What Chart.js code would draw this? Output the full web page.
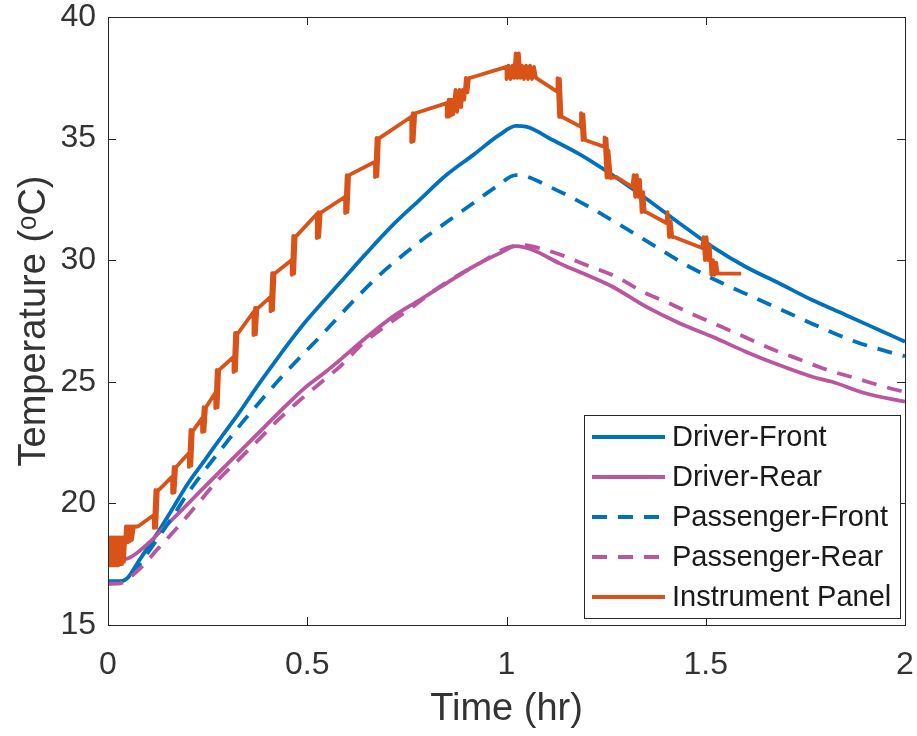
<!DOCTYPE html>
<html>
<head>
<meta charset="utf-8">
<script src="https://cdn.jsdelivr.net/npm/chart.js@4.4.1/dist/chart.umd.min.js"></script>
<style>
  body { margin: 0; background: #fff; }
  canvas { display: block; }
</style>
</head>
<body>
<canvas id="tempChart" width="917" height="736"></canvas>
<script>
// Cabin temperatures vs time
const seriesLabels = ["Driver-Front", "Driver-Rear", "Passenger-Front", "Passenger-Rear", "Instrument Panel"];

const driverFrontTime = [0, 0.03, 0.05, 0.076, 0.118, 0.16, 0.201, 0.243, 0.285, 0.327, 0.368, 0.41, 0.452, 0.494, 0.536, 0.581, 0.648, 0.715, 0.782, 0.849, 0.916, 0.982, 1.024, 1.049, 1.116, 1.183, 1.266, 1.35, 1.434, 1.517, 1.6, 1.684, 1.767, 1.851, 1.935, 2.0];
const driverFrontTemp = [16.8, 16.8, 16.95, 17.6, 18.63, 19.73, 20.83, 21.78, 22.74, 23.68, 24.66, 25.62, 26.56, 27.44, 28.23, 29.05, 30.28, 31.45, 32.48, 33.5, 34.32, 35.15, 35.52, 35.49, 34.94, 34.36, 33.5, 32.54, 31.52, 30.55, 29.73, 29.05, 28.36, 27.75, 27.13, 26.65];

const driverRearTime = [0, 0.03, 0.059, 0.101, 0.143, 0.193, 0.243, 0.293, 0.343, 0.393, 0.444, 0.494, 0.544, 0.581, 0.648, 0.715, 0.782, 0.849, 0.916, 0.982, 1.024, 1.066, 1.133, 1.2, 1.266, 1.35, 1.434, 1.517, 1.6, 1.684, 1.767, 1.817, 1.9, 2.0];
const driverRearTemp = [17.6, 17.65, 17.81, 18.36, 19.04, 19.86, 20.69, 21.51, 22.33, 23.15, 23.98, 24.75, 25.38, 25.88, 26.82, 27.68, 28.36, 29.05, 29.73, 30.28, 30.58, 30.42, 29.87, 29.4, 28.91, 28.09, 27.41, 26.85, 26.24, 25.69, 25.21, 25.0, 24.53, 24.18];

const passFrontTime = [0, 0.03, 0.06, 0.101, 0.16, 0.2, 0.243, 0.289, 0.335, 0.385, 0.436, 0.485, 0.536, 0.581, 0.632, 0.682, 0.74, 0.799, 0.857, 0.916, 0.974, 1.024, 1.049, 1.108, 1.183, 1.292, 1.375, 1.459, 1.542, 1.626, 1.709, 1.793, 1.876, 1.972, 2.0];
const passFrontTemp = [16.7, 16.75, 17.1, 18.0, 19.4, 20.41, 21.37, 22.33, 23.29, 24.25, 25.21, 26.06, 26.92, 27.72, 28.6, 29.4, 30.21, 30.97, 31.65, 32.34, 33.02, 33.5, 33.45, 33.02, 32.41, 31.38, 30.55, 29.73, 29.05, 28.43, 27.82, 27.2, 26.65, 26.17, 26.05];

const passRearTime = [0, 0.026, 0.076, 0.126, 0.176, 0.226, 0.276, 0.327, 0.377, 0.427, 0.477, 0.527, 0.586, 0.64, 0.707, 0.765, 0.832, 0.932, 0.999, 1.04, 1.083, 1.15, 1.2, 1.275, 1.341, 1.408, 1.471, 1.538, 1.605, 1.672, 1.739, 1.805, 1.876, 1.947, 2.0];
const passRearTemp = [16.7, 16.7, 17.26, 18.15, 19.04, 20.0, 20.96, 21.78, 22.6, 23.43, 24.18, 24.87, 25.69, 26.58, 27.41, 28.09, 28.91, 29.87, 30.49, 30.62, 30.49, 30.14, 29.8, 29.32, 28.71, 28.23, 27.75, 27.27, 26.79, 26.31, 25.9, 25.49, 25.15, 24.8, 24.58];

// instrument panel sensor: stepped and jittery, repeated times are the vertical jumps
const panelTime = [
  0, 0, 0.005, 0.005, 0.01, 0.01, 0.015, 0.015, 0.02, 0.02, 0.025, 0.025, 0.03, 0.03, 0.035, 0.035, 0.04, 0.04,
  0.045, 0.045, 0.05, 0.05, 0.055, 0.055, 0.06, 0.06, 0.065, 0.075,
  0.115, 0.115, 0.119, 0.121, 0.125, 0.127,
  0.161, 0.161, 0.165, 0.167, 0.171, 0.173,
  0.203, 0.203, 0.207, 0.209, 0.213, 0.215,
  0.236, 0.236, 0.24, 0.242, 0.246, 0.248,
  0.269, 0.269, 0.273, 0.275, 0.279, 0.281,
  0.315, 0.315, 0.319, 0.321, 0.325, 0.327,
  0.365, 0.365, 0.369, 0.371, 0.375, 0.377,
  0.408, 0.408, 0.412, 0.414, 0.418, 0.42,
  0.461, 0.461, 0.465, 0.467, 0.471, 0.473,
  0.524, 0.524, 0.528, 0.53, 0.534, 0.536,
  0.595, 0.595, 0.599, 0.601, 0.605, 0.607,
  0.67, 0.67, 0.674, 0.676, 0.68, 0.682,
  0.761, 0.761, 0.765, 0.767, 0.771, 0.773,
  0.85, 0.85, 0.855, 0.855, 0.86, 0.86, 0.866, 0.866, 0.872, 0.876, 0.882, 0.886, 0.89, 0.894, 0.898, 0.902, 0.906, 0.91,
  1.0, 1.0, 1.005, 1.01, 1.015, 1.019, 1.023, 1.027, 1.031, 1.035, 1.039, 1.044, 1.049, 1.054, 1.059, 1.064, 1.069, 1.074,
  1.128, 1.128, 1.132, 1.134, 1.138, 1.14,
  1.187, 1.187, 1.191, 1.193, 1.197, 1.199,
  1.246, 1.246, 1.251, 1.251, 1.256, 1.256, 1.262, 1.276,
  1.316, 1.319, 1.323, 1.327, 1.331, 1.335, 1.339, 1.343, 1.347, 1.351,
  1.401, 1.404, 1.408, 1.412, 1.416, 1.42,
  1.491, 1.494, 1.498, 1.502, 1.506, 1.51, 1.514, 1.518, 1.522, 1.526, 1.53,
  1.589
];
const panelTemp = [
  18.55, 17.45, 18.6, 17.45, 18.6, 17.45, 18.6, 17.45, 18.6, 17.45, 18.6, 17.45, 18.6, 17.5, 18.6, 17.5, 18.6, 17.6,
  19.05, 18.4, 19.05, 18.4, 19.05, 18.45, 19.05, 18.5, 19.05, 19.05,
  19.52, 18.99, 20.55, 19.0, 20.55, 20.55,
  21.1, 20.43, 21.5, 20.45, 21.5, 21.5,
  22.07, 21.5, 23.02, 21.55, 23.02, 23.02,
  23.51, 22.94, 23.96, 22.96, 23.96, 23.96,
  24.54, 23.92, 25.49, 23.95, 25.49, 25.49,
  26.02, 25.4, 27.01, 25.45, 27.01, 27.01,
  27.87, 26.92, 28.04, 26.95, 28.04, 28.04,
  28.49, 27.9, 29.47, 27.95, 29.47, 29.47,
  30.01, 29.4, 31.0, 29.45, 31.0, 31.0,
  31.9, 30.91, 31.98, 30.95, 31.98, 31.98,
  32.61, 31.94, 33.5, 31.98, 33.5, 33.5,
  34.05, 33.42, 35.03, 33.45, 35.03, 35.03,
  35.9, 34.86, 36.05, 34.9, 36.05, 36.05,
  36.46, 35.9, 36.6, 35.9, 36.6, 35.95, 36.6, 36.0, 37.0, 36.1, 37.0, 36.3, 37.0, 36.6, 37.5, 36.9, 37.5, 37.5,
  37.95, 37.45, 38.0, 37.45, 38.0, 37.5, 38.5, 37.5, 38.5, 37.5, 38.0, 37.45, 38.0, 37.45, 38.0, 37.45, 37.95, 37.5,
  36.92, 37.49, 35.89, 37.45, 35.89, 35.89,
  35.48, 36.05, 34.94, 36.0, 34.94, 34.94,
  34.66, 35.05, 33.4, 35.0, 33.4, 34.5, 33.38, 33.42,
  33.01, 33.5, 32.6, 33.5, 32.6, 33.3, 31.98, 32.8, 31.98, 31.98,
  31.53, 31.98, 30.95, 31.6, 30.95, 30.95,
  30.5, 30.95, 30.0, 30.95, 30.0, 30.6, 29.4, 30.0, 29.4, 29.9, 29.45,
  29.45
];

const xTicks = [0, 0.5, 1, 1.5, 2];
const yTicks = [15, 20, 25, 30, 35, 40];

const blue = "#0072BD";
const purple = "#BA55A0";
const orange = "#D95319";
const axisColor = "#262626";
const textColor = "#333333";
const fontFamily = "'Liberation Sans', Arial, sans-serif";

function toPoints(times, temps) {
  return times.map((t, i) => ({ x: t, y: temps[i] }));
}

// MATLAB style box with inward ticks on all four sides, plus the legend
const boxPlugin = {
  id: "box",
  afterDatasetsDraw(chart) {
    const ctx = chart.ctx;
    const a = chart.chartArea;
    const xs = chart.scales.x, ys = chart.scales.y;
    const len = 8;
    ctx.save();
    ctx.strokeStyle = axisColor;
    ctx.lineWidth = 1;
    ctx.strokeRect(Math.round(a.left) + 0.5, Math.round(a.top) + 0.5, Math.round(a.right - a.left), Math.round(a.bottom - a.top));
    ctx.beginPath();
    xTicks.forEach(v => {
      const px = Math.round(xs.getPixelForValue(v)) + 0.5;
      ctx.moveTo(px, a.bottom); ctx.lineTo(px, a.bottom - len);
      ctx.moveTo(px, a.top); ctx.lineTo(px, a.top + len);
    });
    yTicks.forEach(v => {
      const py = Math.round(ys.getPixelForValue(v)) + 0.5;
      ctx.moveTo(a.left, py); ctx.lineTo(a.left + len, py);
      ctx.moveTo(a.right, py); ctx.lineTo(a.right - len, py);
    });
    ctx.stroke();
    ctx.restore();
  },
  afterDraw(chart) {
    const ctx = chart.ctx;
    const a = chart.chartArea;
    const boxR = a.right - 5, boxB = a.bottom - 7;
    const boxL = boxR - 316, boxT = boxB - 203;
    ctx.save();
    ctx.fillStyle = "#fff";
    ctx.fillRect(boxL, boxT, boxR - boxL, boxB - boxT);
    ctx.strokeStyle = axisColor;
    ctx.lineWidth = 1;
    ctx.strokeRect(Math.round(boxL) + 0.5, Math.round(boxT) + 0.5, Math.round(boxR - boxL), Math.round(boxB - boxT));
    ctx.font = "29px " + fontFamily;
    ctx.textBaseline = "middle";
    ctx.fillStyle = "#1a1a1a";
    chart.data.datasets.forEach((ds, i) => {
      const y = boxT + 22 + i * 40;
      ctx.beginPath();
      ctx.strokeStyle = ds.borderColor;
      ctx.lineWidth = ds.borderWidth;
      ctx.setLineDash(ds.borderDash || []);
      ctx.moveTo(boxL + 8, y);
      ctx.lineTo(boxL + 81, y);
      ctx.stroke();
      ctx.setLineDash([]);
      ctx.fillText(ds.label, boxL + 88, y + 1);
    });
    ctx.restore();
  }
};

const dash = [15, 11];
const smooth = { cubicInterpolationMode: "monotone", borderWidth: 3.8 };

new Chart(document.getElementById("tempChart"), {
  type: "line",
  data: {
    datasets: [
      { label: seriesLabels[0], data: toPoints(driverFrontTime, driverFrontTemp), borderColor: blue, ...smooth, order: 5 },
      { label: seriesLabels[1], data: toPoints(driverRearTime, driverRearTemp), borderColor: purple, ...smooth, order: 4 },
      { label: seriesLabels[2], data: toPoints(passFrontTime, passFrontTemp), borderColor: blue, ...smooth, borderDash: dash, order: 3 },
      { label: seriesLabels[3], data: toPoints(passRearTime, passRearTemp), borderColor: purple, ...smooth, borderDash: dash, order: 2 },
      { label: seriesLabels[4], data: toPoints(panelTime, panelTemp), borderColor: orange, borderWidth: 3.8, order: 1 }
    ]
  },
  options: {
    responsive: false,
    animation: false,
    devicePixelRatio: 1,
    layout: { padding: { top: 17, right: 12, left: 0, bottom: 0 } },
    elements: {
      point: { radius: 0 },
      line: { tension: 0, borderJoinStyle: "round", borderCapStyle: "butt", fill: false }
    },
    plugins: {
      legend: { display: false },
      tooltip: { enabled: false }
    },
    scales: {
      x: {
        type: "linear",
        min: 0,
        max: 2,
        afterBuildTicks(scale) { scale.ticks = xTicks.map(v => ({ value: v })); },
        afterFit(scale) { scale.height = 111; scale.paddingLeft = 0; scale.paddingRight = 0; },
        grid: { display: false },
        border: { display: false },
        ticks: { color: textColor, padding: 13, maxRotation: 0, callback: v => String(v), font: { family: fontFamily, size: 32 } },
        title: { display: true, text: "Time (hr)", color: textColor, padding: { top: 0 }, font: { family: fontFamily, size: 38 } }
      },
      y: {
        type: "linear",
        min: 15,
        max: 40,
        afterBuildTicks(scale) { scale.ticks = yTicks.map(v => ({ value: v })); },
        afterFit(scale) { scale.width = 108; scale.paddingTop = 0; scale.paddingBottom = 0; },
        grid: { display: false },
        border: { display: false },
        ticks: { color: textColor, padding: 4, callback: v => String(v), font: { family: fontFamily, size: 32 } },
        title: { display: true, text: "Temperature (ᵒC)", color: textColor, padding: { top: 12, bottom: 0 }, font: { family: fontFamily, size: 38 } }
      }
    }
  },
  plugins: [boxPlugin]
});
</script>
</body>
</html>
